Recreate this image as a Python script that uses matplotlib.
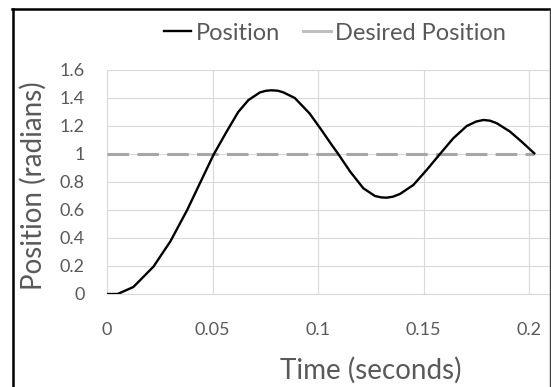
import matplotlib
matplotlib.use("Agg")
import matplotlib.pyplot as plt
from matplotlib.lines import Line2D

plt.rcParams['font.family'] = ['Lato', 'DejaVu Sans']
plt.rcParams['lines.scale_dashes'] = False

# values
time_s = [0, 0.005, 0.0125, 0.022, 0.030, 0.038, 0.044, 0.0505, 0.0567, 0.0622,
          0.067, 0.0725, 0.0755, 0.078, 0.081, 0.0836, 0.089, 0.096, 0.1017,
          0.1065, 0.1096, 0.1152, 0.1215, 0.127, 0.1300, 0.1326, 0.1355,
          0.1389, 0.1452, 0.1515, 0.1578, 0.1641, 0.1705, 0.1750, 0.1784,
          0.1815, 0.1847, 0.191, 0.1965, 0.2025]
position = [0, 0, 0.05, 0.195, 0.375, 0.60, 0.79, 0.995, 1.16, 1.30,
            1.385, 1.44, 1.452, 1.455, 1.452, 1.44, 1.40, 1.29, 1.17,
            1.065, 1.0, 0.875, 0.755, 0.70, 0.69, 0.688, 0.695,
            0.715, 0.779, 0.886, 1.0, 1.112, 1.20, 1.232, 1.243,
            1.238, 1.22, 1.16, 1.088, 1.005]
desired_t = [0, 0.2025]
desired = [1, 1]

x_ticks = [0, 0.05, 0.1, 0.15, 0.2]
x_labels = ['0', '0.05', '0.1', '0.15', '0.2']
y_ticks = [0, 0.2, 0.4, 0.6, 0.8, 1, 1.2, 1.4, 1.6]
y_labels = ['0', '0.2', '0.4', '0.6', '0.8', '1', '1.2', '1.4', '1.6']

text_col = '#595959'
grid_col = '#D9D9D9'
W, H = 551, 387

fig = plt.figure(figsize=(W / 100, H / 100), dpi=100)
ax = fig.add_axes([107 / W, 1 - 294 / H, (549 - 107) / W, (294 - 70) / H])

ax.plot(desired_t, desired, color='#A6A6A6', lw=2.2, dashes=(15.5, 6),
        label='Desired Position', solid_capstyle='butt', zorder=2)
ax.plot(time_s, position, color='black', lw=1.7, label='Position', zorder=3,
        solid_joinstyle='round')

ax.set_xlim(0, (549 - 107) / 2110)
ax.set_ylim(0, 1.6)
ax.set_xticks(x_ticks)
ax.set_xticklabels(x_labels)
ax.set_yticks(y_ticks)
ax.set_yticklabels(y_labels)
ax.tick_params(axis='x', length=0, pad=20, labelsize=13, labelcolor=text_col)
ax.tick_params(axis='y', length=0, pad=16, labelsize=13, labelcolor=text_col)
ax.grid(True, color=grid_col, lw=0.8)
ax.set_axisbelow(True)
for side in ['top', 'right', 'left']:
    ax.spines[side].set_visible(False)
ax.spines['bottom'].set_color(grid_col)
ax.spines['bottom'].set_linewidth(0.8)

fig.text(371 / W, 1 - 370 / H, 'Time (seconds)', ha='center', va='center',
         fontsize=20, color=text_col)
fig.text(33 / W, 1 - 186 / H, 'Position (radians)', ha='center', va='center',
         rotation=90, fontsize=20, color=text_col)

handles = [Line2D([], [], color='black', lw=1.7),
           Line2D([], [], color='#BFBFBF', lw=2.2)]
leg = fig.legend(handles, ['Position', 'Desired Position'], ncol=2,
                 loc='center', bbox_to_anchor=(335 / W, 1 - 33 / H),
                 frameon=False, fontsize=17, handlelength=1.15,
                 handletextpad=0.2, columnspacing=1.0)
for t in leg.get_texts():
    t.set_color(text_col)

# frame around the chart
fig.add_artist(Line2D([13 / W, 13 / W], [0, 1 - 8.5 / H], color='black', lw=1.8))
fig.add_artist(Line2D([12 / W, 550 / W], [1 - 8.5 / H, 1 - 8.5 / H], color='black', lw=1.8))
fig.add_artist(Line2D([549.5 / W, 549.5 / W], [0, 1 - 8.5 / H], color='#404040', lw=1.0))

fig.savefig('out.png', dpi=100)
